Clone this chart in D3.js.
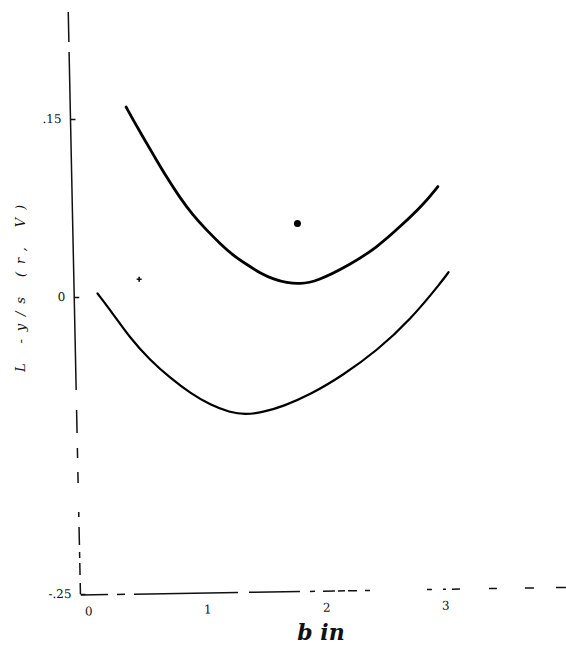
<!DOCTYPE html>
<html>
<head>
<meta charset="utf-8">
<script src="https://cdn.jsdelivr.net/npm/d3@7"></script>
<style>
  body { margin: 0; background: #fff; }
  text { fill: #111; }
</style>
</head>
<body>
<div id="chart"></div>
<script>
// Hand drawn curves
// x = b (in), y = value of the plotted function

var upperX = [0.32, 0.38, 0.46, 0.56, 0.66, 0.77, 0.88, 1.00, 1.11, 1.22, 1.34, 1.45, 1.56, 1.67, 1.78, 1.92, 2.20, 2.43, 2.62, 2.82, 2.94];
var upperY = [0.160, 0.149, 0.135, 0.118, 0.101, 0.084, 0.069, 0.056, 0.045, 0.035, 0.027, 0.020, 0.015, 0.012, 0.011, 0.013, 0.027, 0.042, 0.059, 0.078, 0.093];

var lowerX = [0.08, 0.21, 0.35, 0.52, 0.69, 0.86, 1.03, 1.19, 1.32, 1.47, 1.64, 1.87, 2.14, 2.43, 2.71, 2.98, 3.03];
var lowerY = [0.003, -0.014, -0.034, -0.053, -0.068, -0.081, -0.091, -0.097, -0.099, -0.097, -0.092, -0.082, -0.066, -0.045, -0.019, 0.014, 0.021];

// single points marked on the sheet
var dotPoint = [1.76, 0.062];
var starPoint = [0.43, 0.015];

var yTicks = [0.15, 0, -0.25];
var yTickLabels = [".15", "0", "-.25"];
var xTicks = [0, 1, 2, 3];
var xTickLabels = ["0", "1", "2", "3"];

var width = 566,
	height = 646;

var svg = d3.select("#chart").append("svg")
	.attr("width", width)
	.attr("height", height);

var x = d3.scaleLinear().domain([0, 3]).range([88, 445]);
var y = d3.scaleLinear().domain([-0.25, 0.24]).range([594, 12]);

// y axis: slightly leaning, drawn by hand
var gy = svg.append("g")
	.attr("transform", "translate(68,0) skewX(1.2)");

gy.append("line")
	.attr("x1", 0).attr("x2", 0)
	.attr("y1", y(0.24)).attr("y2", y(-0.25))
	.style("stroke", "#111")
	.style("stroke-width", 1.5)
	.style("stroke-dasharray", "30,10,338,20,23,15,10,14,11,29,5,10,18,7,6,5,12,8,11");

gy.call(d3.axisLeft(y)
		.tickValues(yTicks)
		.tickSize(-5)
		.tickPadding(9)
		.tickFormat(function(d, i) { return yTickLabels[i]; }))
	.call(function(g) { g.select(".domain").remove(); })
	.call(function(g) { g.selectAll(".tick line").style("stroke", "#111").style("stroke-width", 1.5); })
	.call(function(g) { g.selectAll(".tick text").style("font-family", "DejaVu Serif").style("font-size", "12px").style("fill", "#111"); });

// x axis: dashed, drifting up a little to the right
var gx = svg.append("g")
	.attr("transform", "translate(0,595) rotate(-0.9,81,0)");

gx.append("line")
	.attr("x1", 81).attr("x2", 566)
	.attr("y1", 0).attr("y2", 0)
	.style("stroke", "#111")
	.style("stroke-width", 1.5)
	.style("stroke-dasharray", "27,9,8,9,104,11,51,10,5,8,12,3,7,3,9,8,5,57,5,11,3,6,8,29,8,28,9,22,10");

gx.call(d3.axisBottom(x)
		.tickValues(xTicks)
		.tickSize(0)
		.tickPadding(12)
		.tickFormat(function(d, i) { return xTickLabels[i]; }))
	.call(function(g) { g.select(".domain").remove(); })
	.call(function(g) { g.selectAll(".tick text").style("font-family", "DejaVu Serif").style("font-size", "12px").style("fill", "#111"); });

// axis titles
svg.append("text")
	.attr("x", 321)
	.attr("y", 640)
	.attr("text-anchor", "middle")
	.style("font-family", "DejaVu Serif")
	.style("font-style", "italic")
	.style("font-weight", "bold")
	.style("font-size", "22px")
	.text("b in");

svg.append("text")
	.attr("transform", "translate(25,372) rotate(-90)")
	.attr("textLength", 167)
	.attr("lengthAdjust", "spacing")
	.style("font-family", "DejaVu Serif")
	.style("font-style", "italic")
	.style("font-size", "13px")
	.text("L  -y/s  (r, V)");

// curves (smoothed, they were drawn freehand)
var line = d3.line()
	.x(function(d) { return x(d[0]); })
	.y(function(d) { return y(d[1]); })
	.curve(d3.curveBasis);

svg.append("path")
	.datum(d3.zip(upperX, upperY))
	.attr("d", line)
	.style("fill", "none")
	.style("stroke", "#000")
	.style("stroke-width", 2.8)
	.style("stroke-linecap", "round");

svg.append("path")
	.datum(d3.zip(lowerX, lowerY))
	.attr("d", line)
	.style("fill", "none")
	.style("stroke", "#000")
	.style("stroke-width", 2.2)
	.style("stroke-linecap", "round");

svg.append("circle")
	.attr("cx", x(dotPoint[0]))
	.attr("cy", y(dotPoint[1]))
	.attr("r", 3.5)
	.style("fill", "#000");

svg.append("path")
	.attr("transform", "translate(" + x(starPoint[0]) + "," + y(starPoint[1]) + ")")
	.attr("d", d3.symbol(d3.symbolCross, 14)())
	.style("fill", "#111");
</script>
</body>
</html>
